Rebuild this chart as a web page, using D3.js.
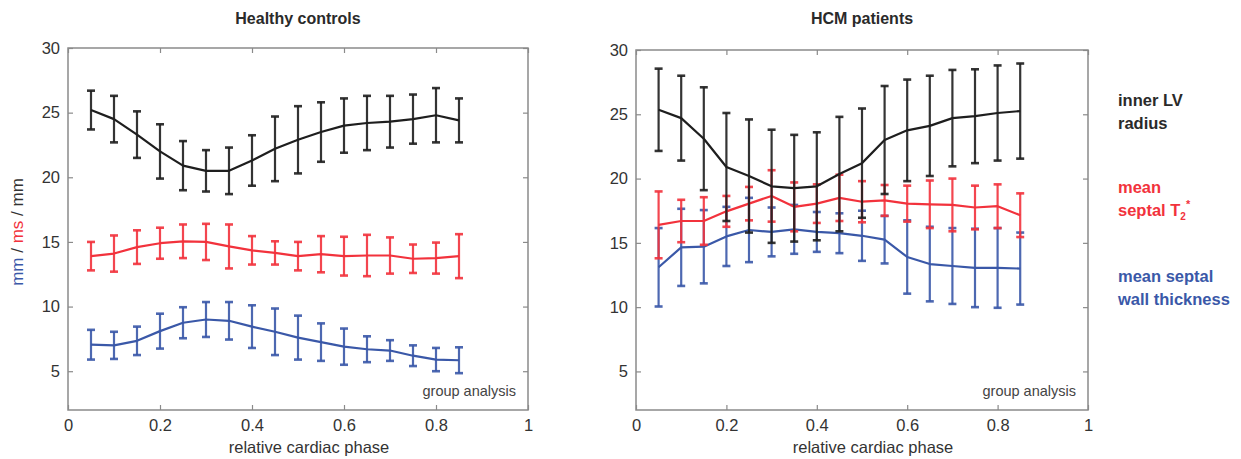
<!DOCTYPE html>
<html>
<head>
<meta charset="utf-8">
<script src="https://cdn.jsdelivr.net/npm/d3@7/dist/d3.min.js"></script>
<style>
    body { margin: 0; background: #fff; }
    svg { display: block; font-family: "Liberation Sans", Arial, sans-serif; }
</style>
</head>
<body>
<svg id="chart" width="1241" height="459"></svg>
<script>
let phases = [0.05, 0.10, 0.15, 0.20, 0.25, 0.30, 0.35, 0.40, 0.45, 0.50, 0.55, 0.60, 0.65, 0.70, 0.75, 0.80, 0.85];

let xTicks = [0, 0.2, 0.4, 0.6, 0.8, 1];
let yTicks = [5, 10, 15, 20, 25, 30];

// healthy controls
let healthyRadius = [25.2, 24.5, 23.3, 22.0, 20.9, 20.5, 20.5, 21.3, 22.2, 22.9, 23.5, 24.0, 24.2, 24.3, 24.5, 24.8, 24.4];
let healthyRadiusErr = [1.5, 1.8, 1.8, 2.1, 1.9, 1.6, 1.8, 1.95, 2.5, 2.6, 2.3, 2.1, 2.1, 2.0, 1.9, 2.1, 1.7];
let healthyT2 = [13.9, 14.1, 14.6, 14.9, 15.05, 15.0, 14.65, 14.35, 14.15, 13.9, 14.05, 13.9, 13.95, 13.95, 13.7, 13.75, 13.9];
let healthyT2Err = [1.1, 1.4, 1.3, 1.2, 1.3, 1.4, 1.7, 1.1, 0.9, 1.1, 1.4, 1.5, 1.6, 1.4, 1.1, 1.2, 1.7];
let healthyWall = [7.05, 7.0, 7.35, 8.1, 8.75, 9.0, 8.9, 8.45, 8.05, 7.6, 7.25, 6.9, 6.7, 6.6, 6.2, 5.9, 5.85];
let healthyWallErr = [1.15, 1.05, 1.1, 1.35, 1.2, 1.35, 1.45, 1.65, 1.8, 1.7, 1.45, 1.4, 1.0, 0.8, 0.8, 0.9, 1.0];

// HCM patients
let hcmRadius = [25.35, 24.7, 23.1, 20.9, 20.2, 19.4, 19.25, 19.4, 20.35, 21.2, 23.0, 23.75, 24.1, 24.7, 24.85, 25.1, 25.25];
let hcmRadiusErr = [3.2, 3.3, 4.0, 4.2, 4.4, 4.4, 4.15, 4.2, 4.45, 4.25, 4.2, 3.95, 3.9, 3.75, 3.65, 3.7, 3.7];
let hcmT2 = [16.4, 16.7, 16.7, 17.45, 18.05, 18.65, 17.8, 18.05, 18.5, 18.2, 18.3, 18.05, 18.0, 17.95, 17.75, 17.85, 17.15];
let hcmT2Err = [2.6, 1.65, 1.85, 1.2, 1.3, 2.0, 1.9, 1.5, 1.8, 1.6, 1.2, 1.4, 1.85, 2.05, 1.7, 1.7, 1.7];
let hcmWall = [13.1, 14.65, 14.7, 15.5, 16.0, 15.85, 16.05, 15.85, 15.75, 15.55, 15.25, 13.9, 13.35, 13.2, 13.05, 13.05, 13.0];
let hcmWallErr = [3.05, 3.0, 2.85, 2.3, 2.5, 1.9, 1.9, 1.55, 1.55, 1.95, 1.85, 2.85, 2.9, 2.95, 3.05, 3.1, 2.8];

let BLACK = '#1e1e1e';
let RED = '#f2323c';
let BLUE = '#3a58a8';
let AXIS = '#8a8a8a';
let TEXT = '#333';

let svg = d3.select('#chart');

function drawSeries(g, x, y, means, errs, color) {
    let pts = phases.map((p, i) => ({x: p, m: means[i], e: errs[i]}));
    let bars = g.append('g')
        .attr('stroke', color)
        .attr('stroke-width', 2.2)
        .attr('stroke-opacity', 0.9);

    bars.selectAll('line.bar')
        .data(pts)
        .enter().append('line')
        .attr('class', 'bar')
        .attr('x1', d => x(d.x))
        .attr('x2', d => x(d.x))
        .attr('y1', d => y(d.m - d.e))
        .attr('y2', d => y(d.m + d.e));

    [-1, 1].forEach(s => {
        bars.selectAll('line.cap' + (s > 0 ? 'hi' : 'lo'))
            .data(pts)
            .enter().append('line')
            .attr('class', 'cap' + (s > 0 ? 'hi' : 'lo'))
            .attr('stroke-width', 2.6)
            .attr('x1', d => x(d.x) - 4)
            .attr('x2', d => x(d.x) + 4)
            .attr('y1', d => y(d.m + s * d.e))
            .attr('y2', d => y(d.m + s * d.e));
    });

    let line = d3.line()
        .x(d => x(d.x))
        .y(d => y(d.m));

    g.append('path')
        .datum(pts)
        .attr('fill', 'none')
        .attr('stroke', color)
        .attr('stroke-width', 2.2)
        .attr('stroke-linejoin', 'round')
        .attr('d', line);
}

function drawPanel(opts) {
    let x = d3.scaleLinear().domain([0, 1]).range([opts.left, opts.right]);
    let y = d3.scaleLinear().domain([2, 30]).range([opts.bottom, opts.top]);
    let g = svg.append('g');

    g.append('rect')
        .attr('x', opts.left)
        .attr('y', opts.top)
        .attr('width', opts.right - opts.left)
        .attr('height', opts.bottom - opts.top)
        .attr('fill', '#fff')
        .attr('stroke', AXIS)
        .attr('stroke-width', 1.5);

    let axes = [
        d3.axisBottom(x).tickValues(xTicks).tickFormat(d3.format('')).tickSizeInner(-5).tickSizeOuter(0).tickPadding(9),
        d3.axisTop(x).tickValues(xTicks).tickFormat('').tickSizeInner(-5).tickSizeOuter(0),
        d3.axisLeft(y).tickValues(yTicks).tickSizeInner(-5).tickSizeOuter(0).tickPadding(8),
        d3.axisRight(y).tickValues(yTicks).tickFormat('').tickSizeInner(-5).tickSizeOuter(0)
    ];
    let shifts = ['translate(0,' + opts.bottom + ')', 'translate(0,' + opts.top + ')',
        'translate(' + opts.left + ',0)', 'translate(' + opts.right + ',0)'];

    axes.forEach((a, i) => {
        let ag = g.append('g').attr('transform', shifts[i]).call(a);
        ag.select('.domain').remove();
        ag.selectAll('.tick line').attr('stroke', AXIS).attr('stroke-width', 1.2);
        ag.selectAll('.tick text')
            .attr('fill', TEXT)
            .style('font-size', '16.5px')
            .style('font-family', '"Liberation Sans", Arial, sans-serif');
    });

    drawSeries(g, x, y, opts.wall, opts.wallErr, BLUE);
    drawSeries(g, x, y, opts.t2, opts.t2Err, RED);
    drawSeries(g, x, y, opts.radius, opts.radiusErr, BLACK);

    let mid = (opts.left + opts.right) / 2;
    g.append('text')
        .attr('x', mid)
        .attr('y', 24)
        .attr('text-anchor', 'middle')
        .attr('fill', '#2a2a2a')
        .style('font-size', '16px')
        .style('font-weight', 'bold')
        .text(opts.title);

    g.append('text')
        .attr('x', mid + 11)
        .attr('y', 453)
        .attr('text-anchor', 'middle')
        .attr('fill', TEXT)
        .style('font-size', '16.5px')
        .text('relative cardiac phase');

    g.append('text')
        .attr('x', opts.right - 12)
        .attr('y', opts.bottom - 14)
        .attr('text-anchor', 'end')
        .attr('fill', '#444')
        .style('font-size', '14.5px')
        .text('group analysis');
}

drawPanel({
    title: 'Healthy controls',
    left: 68, right: 528, top: 48, bottom: 410,
    radius: healthyRadius, radiusErr: healthyRadiusErr,
    t2: healthyT2, t2Err: healthyT2Err,
    wall: healthyWall, wallErr: healthyWallErr
});

drawPanel({
    title: 'HCM patients',
    left: 636, right: 1088, top: 50, bottom: 410,
    radius: hcmRadius, radiusErr: hcmRadiusErr,
    t2: hcmT2, t2Err: hcmT2Err,
    wall: hcmWall, wallErr: hcmWallErr
});

// y label, coloured by unit
let yLabel = svg.append('text')
    .attr('transform', 'translate(23,232) rotate(-90)')
    .attr('text-anchor', 'middle')
    .style('font-size', '17px');
yLabel.append('tspan').attr('fill', BLUE).text('mm');
yLabel.append('tspan').attr('fill', TEXT).text(' / ');
yLabel.append('tspan').attr('fill', RED).text('ms');
yLabel.append('tspan').attr('fill', TEXT).text(' / mm');

// legend on the right
let legend = [
    {lines: ['inner LV', 'radius'], color: '#2a2a2a', y: 106},
    {lines: ['mean', 'septal T'], color: RED, y: 193, sub: true},
    {lines: ['mean septal', 'wall thickness'], color: BLUE, y: 282}
];

legend.forEach(item => {
    let t = svg.append('text')
        .attr('x', 1118)
        .attr('y', item.y)
        .attr('fill', item.color)
        .style('font-size', '16.5px')
        .style('font-weight', 'bold');
    item.lines.forEach((l, i) => {
        t.append('tspan')
            .attr('x', 1118)
            .attr('dy', i === 0 ? 0 : 23)
            .text(l);
        if (item.sub && i === 1) {
            t.append('tspan').attr('dy', 4).style('font-size', '10px').text('2');
            t.append('tspan').attr('dy', -12).style('font-size', '11px').text('*');
        }
    });
});
</script>
</body>
</html>
